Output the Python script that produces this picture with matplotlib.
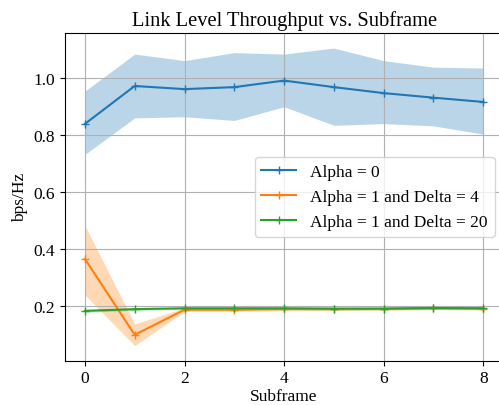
import numpy as np
import matplotlib
matplotlib.use("Agg")
import matplotlib.pyplot as plt

plt.rcParams['font.family'] = ['Liberation Serif', 'DejaVu Serif']

subframe = np.arange(9)

alpha0_mean = [0.840, 0.973, 0.962, 0.969, 0.992, 0.969, 0.948, 0.932, 0.917]
alpha0_upper = [0.955, 1.085, 1.062, 1.090, 1.085, 1.106, 1.062, 1.039, 1.036]
alpha0_lower = [0.733, 0.861, 0.865, 0.852, 0.900, 0.835, 0.841, 0.833, 0.804]

d4_mean = [0.366, 0.100, 0.188, 0.188, 0.190, 0.190, 0.191, 0.193, 0.192]
d4_upper = [0.483, 0.138, 0.194, 0.194, 0.195, 0.195, 0.196, 0.198, 0.197]
d4_lower = [0.240, 0.062, 0.182, 0.182, 0.185, 0.185, 0.186, 0.188, 0.187]

d20_mean = [0.184, 0.190, 0.193, 0.193, 0.193, 0.192, 0.192, 0.194, 0.193]
d20_upper = [0.189, 0.194, 0.197, 0.197, 0.197, 0.196, 0.196, 0.198, 0.197]
d20_lower = [0.179, 0.186, 0.189, 0.189, 0.189, 0.188, 0.188, 0.190, 0.189]

labels = ["Alpha = 0", "Alpha = 1 and Delta = 4", "Alpha = 1 and Delta = 20"]

fig = plt.figure(figsize=(4.99, 4.06), dpi=100)
ax = fig.add_axes([65 / 499, 1 - 361.5 / 406, 438.2 / 499, 327.3 / 406])

series = [(alpha0_mean, alpha0_lower, alpha0_upper),
          (d4_mean, d4_lower, d4_upper),
          (d20_mean, d20_lower, d20_upper)]
for (m, lo, hi), lab in zip(series, labels):
    line, = ax.plot(subframe, m, marker='+', label=lab)
    ax.fill_between(subframe, lo, hi, color=line.get_color(), alpha=0.3, linewidth=0)

ax.set_title("Link Level Throughput vs. Subframe", fontsize=14.8)
ax.set_xlabel("Subframe", fontsize=12.5, labelpad=1)
ax.set_ylabel("bps/Hz", fontsize=12.5)
ax.tick_params(labelsize=12.5)
ax.grid(True)
ax.legend(loc='center right', fontsize=12.5)

fig.savefig("out.png", dpi=100)
